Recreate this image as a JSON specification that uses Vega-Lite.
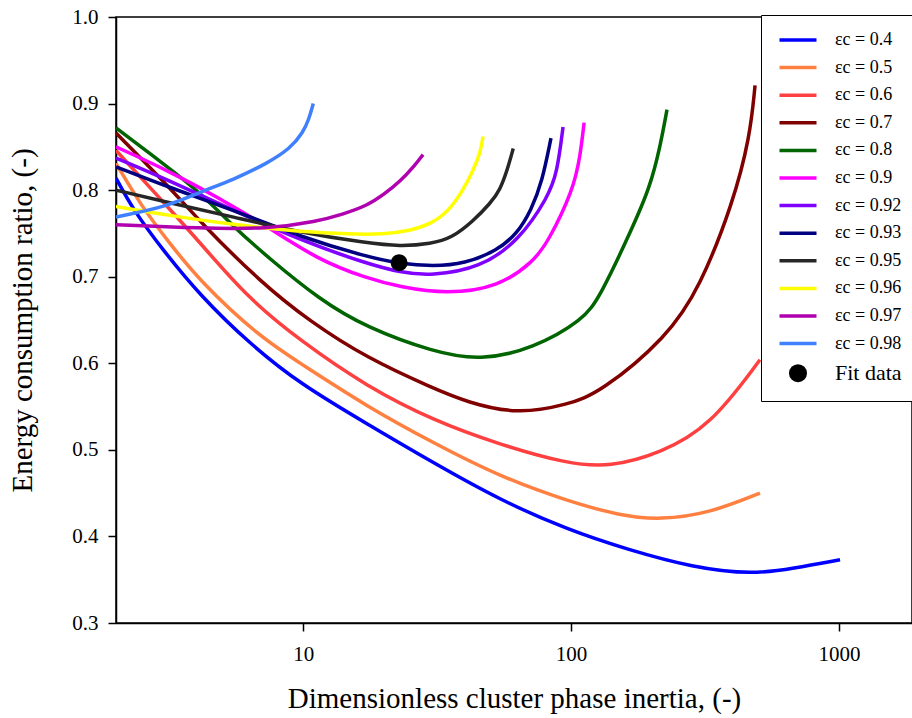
{
  "$schema": "https://vega.github.io/schema/vega-lite/v6.json",
  "autosize": "none",
  "width": 796,
  "height": 606,
  "padding": {"left": 116, "top": 17, "right": 0, "bottom": 95},
  "background": "white",
  "config": {
    "font": "Liberation Serif",
    "view": {"stroke": "black", "strokeWidth": 1.5},
    "axis": {
      "grid": false, "domainColor": "black", "tickColor": "black", "labelColor": "black", "titleColor": "black",
      "labelFont": "Liberation Serif", "titleFont": "Liberation Serif", "labelFontSize": 21, "titleFontSize": 29,
      "titleFontWeight": "normal", "tickSize": 8, "domainWidth": 1.5, "tickWidth": 1.5
    }
  },
  "layer": [
    {
      "data": {"values": [
        {"s": "εc = 0.4", "x": 2, "y": 0.814}, {"s": "εc = 0.4", "x": 2.32, "y": 0.777}, {"s": "εc = 0.4", "x": 2.99, "y": 0.731},
        {"s": "εc = 0.4", "x": 4.13, "y": 0.678}, {"s": "εc = 0.4", "x": 6.34, "y": 0.622}, {"s": "εc = 0.4", "x": 9.75, "y": 0.576},
        {"s": "εc = 0.4", "x": 17.3, "y": 0.530}, {"s": "εc = 0.4", "x": 30.6, "y": 0.485}, {"s": "εc = 0.4", "x": 54.3, "y": 0.442},
        {"s": "εc = 0.4", "x": 96.6, "y": 0.408}, {"s": "εc = 0.4", "x": 161.8, "y": 0.385}, {"s": "εc = 0.4", "x": 285, "y": 0.364},
        {"s": "εc = 0.4", "x": 478, "y": 0.356}, {"s": "εc = 0.4", "x": 673, "y": 0.363}, {"s": "εc = 0.4", "x": 1009, "y": 0.373},

        {"s": "εc = 0.5", "x": 2, "y": 0.831}, {"s": "εc = 0.5", "x": 2.47, "y": 0.783}, {"s": "εc = 0.5", "x": 3.11, "y": 0.742},
        {"s": "εc = 0.5", "x": 4.13, "y": 0.694}, {"s": "εc = 0.5", "x": 6.91, "y": 0.630}, {"s": "εc = 0.5", "x": 9.75, "y": 0.600},
        {"s": "εc = 0.5", "x": 17.3, "y": 0.550}, {"s": "εc = 0.5", "x": 30.6, "y": 0.508}, {"s": "εc = 0.5", "x": 54.3, "y": 0.469},
        {"s": "εc = 0.5", "x": 96.6, "y": 0.441}, {"s": "εc = 0.5", "x": 152.3, "y": 0.424}, {"s": "εc = 0.5", "x": 214.9, "y": 0.419},
        {"s": "εc = 0.5", "x": 330, "y": 0.427}, {"s": "εc = 0.5", "x": 507, "y": 0.450},

        {"s": "εc = 0.6", "x": 2, "y": 0.846}, {"s": "εc = 0.6", "x": 3.11, "y": 0.781}, {"s": "εc = 0.6", "x": 4.13, "y": 0.739},
        {"s": "εc = 0.6", "x": 6.18, "y": 0.676}, {"s": "εc = 0.6", "x": 9.75, "y": 0.626}, {"s": "εc = 0.6", "x": 17.3, "y": 0.573},
        {"s": "εc = 0.6", "x": 30.6, "y": 0.534}, {"s": "εc = 0.6", "x": 54.3, "y": 0.506}, {"s": "εc = 0.6", "x": 96.6, "y": 0.484},
        {"s": "εc = 0.6", "x": 139.8, "y": 0.480}, {"s": "εc = 0.6", "x": 214.9, "y": 0.496}, {"s": "εc = 0.6", "x": 330, "y": 0.527},
        {"s": "εc = 0.6", "x": 507, "y": 0.604},

        {"s": "εc = 0.7", "x": 2, "y": 0.866}, {"s": "εc = 0.7", "x": 3.11, "y": 0.806}, {"s": "εc = 0.7", "x": 4.13, "y": 0.763},
        {"s": "εc = 0.7", "x": 6.91, "y": 0.694}, {"s": "εc = 0.7", "x": 10.62, "y": 0.648}, {"s": "εc = 0.7", "x": 17.3, "y": 0.606},
        {"s": "εc = 0.7", "x": 30.6, "y": 0.571}, {"s": "εc = 0.7", "x": 40.9, "y": 0.555}, {"s": "εc = 0.7", "x": 62.9, "y": 0.541},
        {"s": "εc = 0.7", "x": 96.6, "y": 0.552}, {"s": "εc = 0.7", "x": 128.3, "y": 0.566}, {"s": "εc = 0.7", "x": 228, "y": 0.630},
        {"s": "εc = 0.7", "x": 303, "y": 0.688}, {"s": "εc = 0.7", "x": 402, "y": 0.785}, {"s": "εc = 0.7", "x": 465, "y": 0.861},
        {"s": "εc = 0.7", "x": 486, "y": 0.921},

        {"s": "εc = 0.8", "x": 2, "y": 0.872}, {"s": "εc = 0.8", "x": 3.11, "y": 0.827}, {"s": "εc = 0.8", "x": 4.13, "y": 0.797},
        {"s": "εc = 0.8", "x": 5.48, "y": 0.758}, {"s": "εc = 0.8", "x": 7.34, "y": 0.723}, {"s": "εc = 0.8", "x": 11.57, "y": 0.673},
        {"s": "εc = 0.8", "x": 17.3, "y": 0.641}, {"s": "εc = 0.8", "x": 30.6, "y": 0.613}, {"s": "εc = 0.8", "x": 45.8, "y": 0.603},
        {"s": "εc = 0.8", "x": 72.1, "y": 0.617}, {"s": "εc = 0.8", "x": 110.9, "y": 0.650}, {"s": "εc = 0.8", "x": 128.3, "y": 0.677},
        {"s": "εc = 0.8", "x": 170.3, "y": 0.758}, {"s": "εc = 0.8", "x": 197.2, "y": 0.804}, {"s": "εc = 0.8", "x": 214.9, "y": 0.850},
        {"s": "εc = 0.8", "x": 228, "y": 0.893},

        {"s": "εc = 0.9", "x": 2, "y": 0.850}, {"s": "εc = 0.9", "x": 3.11, "y": 0.823}, {"s": "εc = 0.9", "x": 4.78, "y": 0.792},
        {"s": "εc = 0.9", "x": 7.34, "y": 0.758}, {"s": "εc = 0.9", "x": 11.28, "y": 0.720}, {"s": "εc = 0.9", "x": 17.3, "y": 0.698},
        {"s": "εc = 0.9", "x": 23, "y": 0.688}, {"s": "εc = 0.9", "x": 34.4, "y": 0.680}, {"s": "εc = 0.9", "x": 53.5, "y": 0.688},
        {"s": "εc = 0.9", "x": 72.1, "y": 0.717}, {"s": "εc = 0.9", "x": 82, "y": 0.740}, {"s": "εc = 0.9", "x": 101.7, "y": 0.800},
        {"s": "εc = 0.9", "x": 108, "y": 0.838}, {"s": "εc = 0.9", "x": 111.8, "y": 0.878},

        {"s": "εc = 0.92", "x": 2, "y": 0.837}, {"s": "εc = 0.92", "x": 3.11, "y": 0.812}, {"s": "εc = 0.92", "x": 5.48, "y": 0.777},
        {"s": "εc = 0.92", "x": 9.75, "y": 0.742}, {"s": "εc = 0.92", "x": 17.3, "y": 0.715}, {"s": "εc = 0.92", "x": 23, "y": 0.705},
        {"s": "εc = 0.92", "x": 30, "y": 0.701}, {"s": "εc = 0.92", "x": 45.8, "y": 0.710}, {"s": "εc = 0.92", "x": 64, "y": 0.742},
        {"s": "εc = 0.92", "x": 82, "y": 0.792}, {"s": "εc = 0.92", "x": 88.7, "y": 0.820}, {"s": "εc = 0.92", "x": 93.3, "y": 0.873},

        {"s": "εc = 0.93", "x": 2, "y": 0.827}, {"s": "εc = 0.93", "x": 3.11, "y": 0.804}, {"s": "εc = 0.93", "x": 5.48, "y": 0.777},
        {"s": "εc = 0.93", "x": 9.75, "y": 0.746}, {"s": "εc = 0.93", "x": 17.3, "y": 0.723}, {"s": "εc = 0.93", "x": 22.8, "y": 0.715},
        {"s": "εc = 0.93", "x": 30.6, "y": 0.712}, {"s": "εc = 0.93", "x": 40, "y": 0.715}, {"s": "εc = 0.93", "x": 52.9, "y": 0.730},
        {"s": "εc = 0.93", "x": 63, "y": 0.750}, {"s": "εc = 0.93", "x": 71, "y": 0.777}, {"s": "εc = 0.93", "x": 78, "y": 0.810},
        {"s": "εc = 0.93", "x": 84.1, "y": 0.860},

        {"s": "εc = 0.95", "x": 2, "y": 0.800}, {"s": "εc = 0.95", "x": 3.11, "y": 0.786}, {"s": "εc = 0.95", "x": 5.48, "y": 0.769},
        {"s": "εc = 0.95", "x": 9.75, "y": 0.751}, {"s": "εc = 0.95", "x": 17.3, "y": 0.739}, {"s": "εc = 0.95", "x": 23, "y": 0.735},
        {"s": "εc = 0.95", "x": 30, "y": 0.738}, {"s": "εc = 0.95", "x": 36, "y": 0.745}, {"s": "εc = 0.95", "x": 43, "y": 0.764},
        {"s": "εc = 0.95", "x": 50, "y": 0.785}, {"s": "εc = 0.95", "x": 54.3, "y": 0.800}, {"s": "εc = 0.95", "x": 58, "y": 0.825},
        {"s": "εc = 0.95", "x": 60.8, "y": 0.848},

        {"s": "εc = 0.96", "x": 2, "y": 0.781}, {"s": "εc = 0.96", "x": 3.11, "y": 0.771}, {"s": "εc = 0.96", "x": 5.48, "y": 0.760},
        {"s": "εc = 0.96", "x": 9.75, "y": 0.752}, {"s": "εc = 0.96", "x": 15, "y": 0.749}, {"s": "εc = 0.96", "x": 19.9, "y": 0.749},
        {"s": "εc = 0.96", "x": 25, "y": 0.753}, {"s": "εc = 0.96", "x": 30, "y": 0.761}, {"s": "εc = 0.96", "x": 35, "y": 0.776},
        {"s": "εc = 0.96", "x": 39.5, "y": 0.800}, {"s": "εc = 0.96", "x": 43, "y": 0.822}, {"s": "εc = 0.96", "x": 45.8, "y": 0.843},
        {"s": "εc = 0.96", "x": 46.9, "y": 0.862},

        {"s": "εc = 0.97", "x": 2, "y": 0.760}, {"s": "εc = 0.97", "x": 4.13, "y": 0.756}, {"s": "εc = 0.97", "x": 7.34, "y": 0.755},
        {"s": "εc = 0.97", "x": 11.3, "y": 0.764}, {"s": "εc = 0.97", "x": 14, "y": 0.772}, {"s": "εc = 0.97", "x": 17.3, "y": 0.782},
        {"s": "εc = 0.97", "x": 20, "y": 0.795}, {"s": "εc = 0.97", "x": 23, "y": 0.810}, {"s": "εc = 0.97", "x": 26, "y": 0.828},
        {"s": "εc = 0.97", "x": 28, "y": 0.841},

        {"s": "εc = 0.98", "x": 2, "y": 0.769}, {"s": "εc = 0.98", "x": 3.11, "y": 0.781}, {"s": "εc = 0.98", "x": 4.13, "y": 0.798},
        {"s": "εc = 0.98", "x": 5.48, "y": 0.812}, {"s": "εc = 0.98", "x": 7.34, "y": 0.831}, {"s": "εc = 0.98", "x": 8.94, "y": 0.848},
        {"s": "εc = 0.98", "x": 10, "y": 0.867}, {"s": "εc = 0.98", "x": 10.5, "y": 0.882}, {"s": "εc = 0.98", "x": 10.9, "y": 0.900}
      ]},
      "mark": {"type": "line", "strokeWidth": 3.5, "interpolate": "basis", "clip": true},
      "encoding": {
        "x": {"field": "x", "type": "quantitative",
          "scale": {"type": "log", "domain": [2, 1873], "nice": false},
          "axis": {"values": [10, 100, 1000], "format": "d", "title": "Dimensionless cluster phase inertia, (-)", "labelPadding": 12, "titlePadding": 20}},
        "y": {"field": "y", "type": "quantitative",
          "scale": {"domain": [0.3, 1.0], "nice": false, "zero": false},
          "axis": {"values": [0.3, 0.4, 0.5, 0.6, 0.7, 0.8, 0.9, 1.0], "format": ".1f", "title": "Energy consumption ratio, (-)", "labelPadding": 10, "titlePadding": 34}},
        "color": {"field": "s", "type": "nominal",
          "scale": {
            "domain": ["εc = 0.4", "εc = 0.5", "εc = 0.6", "εc = 0.7", "εc = 0.8", "εc = 0.9", "εc = 0.92", "εc = 0.93", "εc = 0.95", "εc = 0.96", "εc = 0.97", "εc = 0.98", "Fit data"],
            "range": ["#0000ff", "#ff8040", "#ff4040", "#800000", "#006400", "#ff00ff", "#8000ff", "#000080", "#262626", "#ffff00", "#b000b0", "#4080ff", "#000000"]
          },
          "legend": {
            "orient": "none", "legendX": 645, "legendY": -2, "title": null,
            "strokeColor": "black", "fillColor": "white", "padding": 16,
            "labelFont": "Liberation Serif", "labelFontSize": 18, "labelColor": "black",
            "symbolType": "stroke", "symbolSize": 200, "symbolStrokeWidth": 3.5,
            "symbolOffset": 12, "labelOffset": 28, "rowPadding": 9.6,
            "encode": {
              "symbols": {"update": {
                "shape": {"signal": "datum.value === 'Fit data' ? 'circle' : 'stroke'"},
                "size": {"signal": "datum.value === 'Fit data' ? 324 : 1369"},
                "fill": {"signal": "datum.value === 'Fit data' ? 'black' : 'transparent'"},
                "strokeWidth": {"signal": "datum.value === 'Fit data' ? 0 : 3.5"}
              }},
              "labels": {"update": {
                "fontSize": {"signal": "datum.value === 'Fit data' ? 22 : 18"}
              }}
            }
          }
        }
      }
    },
    {
      "data": {"values": [{"s": "Fit data", "x": 22.8, "y": 0.716}]},
      "mark": {"type": "point", "filled": true, "size": 289, "opacity": 1},
      "encoding": {
        "x": {"field": "x", "type": "quantitative"},
        "y": {"field": "y", "type": "quantitative"},
        "color": {"field": "s", "type": "nominal"}
      }
    }
  ]
}
